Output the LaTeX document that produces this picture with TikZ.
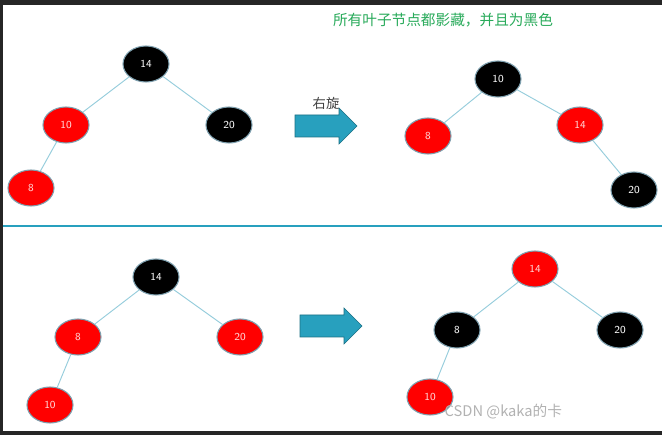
\documentclass[tikz,border=0pt]{standalone}
\usepackage{fontspec}
\usepackage{tikz}
\usetikzlibrary{shapes.geometric}
\newfontfamily\cjk{Noto Sans CJK SC}
\definecolor{linkblue}{RGB}{150,205,220}
\definecolor{arrowblue}{RGB}{40,160,190}
\definecolor{titlegreen}{RGB}{40,170,90}
\tikzset{
  rbnode/.style = {ellipse, minimum width=34.5pt, minimum height=27pt, inner sep=0pt,
    draw=gray!70!cyan, line width=0.8pt, font=\sffamily\fontsize{8}{8}\selectfont},
  rednode/.style = {rbnode, fill=red, text=white!85!red},
  blacknode/.style = {rbnode, fill=black, text=white},
  link/.style = {draw=linkblue, line width=0.7pt},
  turn/.style = {fill=arrowblue, draw=arrowblue!70!black},
}
\newcommand\turnarrow[1]{% #1 = left end of shaft, centre height
  \path[turn, shift={#1}] (0,-11) -- (44,-11) -- (44,-18) -- (62,0) -- (44,18) -- (44,11) -- (0,11) -- cycle;}
\begin{document}
\begin{tikzpicture}[x=0.75pt, y=-0.75pt]
\useasboundingbox (0,0) rectangle (662,435);
\fill[black!85] (0,0) rectangle (662,435);
\fill[white] (3,5) rectangle (662,431);

% Title
\node[font=\cjk\fontsize{11}{11}\selectfont, text=titlegreen] (title) at (443,20) {所有叶子节点都影藏，并且为黑色};

% Top left tree
\node[blacknode] (a14) at (146,64) {14};
\node[rednode] (a10) at (66,125) {10};
\node[blacknode] (a20) at (229,125) {20};
\node[rednode] (a8) at (31,188) {8};
\draw[link] (a14) -- (a10);
\draw[link] (a14) -- (a20);
\draw[link] (a10) -- (a8);

% Rotation arrow
\turnarrow{(295,126)}
\node[font=\cjk\fontsize{10}{10}\selectfont, text=black!75] (rotlabel) at (326,103) {右旋};

% Top right tree
\node[blacknode] (b10) at (498,79) {10};
\node[rednode] (b8) at (428,136) {8};
\node[rednode] (b14) at (580,125) {14};
\node[blacknode] (b20) at (634,190) {20};
\draw[link] (b10) -- (b8);
\draw[link] (b10) -- (b14);
\draw[link] (b14) -- (b20);

% Separator
\draw[arrowblue, line width=2.2pt] (3,226) -- (662,226);

% Bottom left tree
\node[blacknode] (c14) at (156,277) {14};
\node[rednode] (c8) at (78,337) {8};
\node[rednode] (c20) at (240,337) {20};
\node[rednode] (c10) at (50,405) {10};
\draw[link] (c14) -- (c8);
\draw[link] (c14) -- (c20);
\draw[link] (c8) -- (c10);

\turnarrow{(300,326)}

% Bottom right tree
\node[rednode] (d14) at (535,269) {14};
\node[blacknode] (d8) at (457,330) {8};
\node[blacknode] (d20) at (620,330) {20};
\node[rednode] (d10) at (430,397) {10};
\draw[link] (d14) -- (d8);
\draw[link] (d14) -- (d20);
\draw[link] (d8) -- (d10);

% Watermark
\node[font=\cjk\fontsize{11}{11}\selectfont, text=black!30, anchor=west] (mark) at (440,412) {CSDN @kaka的卡};
\end{tikzpicture}
\end{document}
